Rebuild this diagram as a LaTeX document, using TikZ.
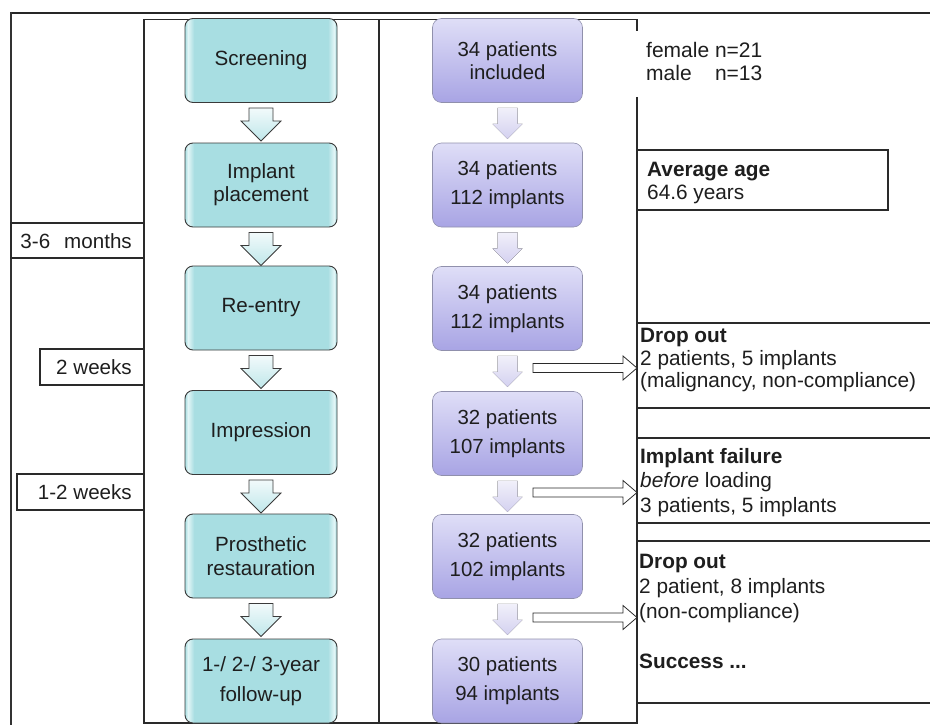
\documentclass[tikz,border=0pt]{standalone}
\usepackage{fontspec}
\setmainfont{Liberation Sans}
\usetikzlibrary{calc}
\definecolor{tealF}{HTML}{A8DEE2}
\definecolor{tealG}{HTML}{E2F5F6}
\definecolor{tealB}{HTML}{3A3A3A}
\definecolor{tarT}{HTML}{F2FAFB}
\definecolor{tarB}{HTML}{BFE7EA}
\definecolor{purT}{HTML}{DFDEF7}
\definecolor{purB}{HTML}{A8A4E4}
\definecolor{purE}{HTML}{9090AC}
\definecolor{parrT}{HTML}{F1F0FA}
\definecolor{parrB}{HTML}{D4D1F0}
\definecolor{txt}{HTML}{1E1E1E}
\definecolor{lin}{HTML}{2A2A2A}
\pgfdeclarehorizontalshading{tealgloss}{100bp}{color(0bp)=(tealF); color(25bp)=(tealF); color(26bp)=(tealG); color(28bp)=(tealF); color(72bp)=(tealF); color(74bp)=(tealG); color(75bp)=(tealF); color(100bp)=(tealF)}
\newcommand\tealdown[1]{%
  \draw[tarrowst] ($(#1.south)+(-12,5)$) -- ($(#1.south)+(12,5)$) -- ($(#1.south)+(12,18)$) -- ($(#1.south)+(20,18)$) -- ($(#1.south)+(0,38)$) -- ($(#1.south)+(-20,18)$) -- ($(#1.south)+(-12,18)$) -- cycle;}
\newcommand\purdown[1]{%
  \fill[parrowst] ($(#1.south)+(-10,5)$) -- ($(#1.south)+(10,5)$) -- ($(#1.south)+(10,21)$) -- ($(#1.south)+(15,21)$) -- ($(#1.south)+(0,36)$) -- ($(#1.south)+(-15,21)$) -- ($(#1.south)+(-10,21)$) -- cycle;}
\newcommand\sidearrow[2]{%
  \draw[harrowst] ($(#1)+(0,-4.5)$) -- ($(#2)+(-14,-4.5)$) -- ($(#2)+(-14,-12)$) -- (#2) -- ($(#2)+(-14,12)$) -- ($(#2)+(-14,4.5)$) -- ($(#1)+(0,4.5)$) -- cycle;}
\begin{document}
\begin{tikzpicture}[x=1pt,y=-1pt,
  tealbox/.style={rounded corners=8pt, draw=tealB, line width=0.9pt, shade, shading=tealgloss,
    minimum width=152pt, minimum height=84pt, inner sep=0pt, align=center,
    font=\fontsize{20.6}{23}\selectfont, text=txt},
  purbox/.style={rounded corners=9pt, draw=purE, line width=0.6pt, top color=purT, bottom color=purB,
    minimum width=150pt, minimum height=84pt, inner sep=0pt, align=center,
    font=\fontsize{20.4}{29}\selectfont, text=txt},
  tarrowst/.style={draw=tealB, line width=0.8pt, top color=tarT, bottom color=tarB, line join=miter},
  parrowst/.style={top color=parrT, bottom color=parrB},
  harrowst/.style={draw=lin, line width=0.8pt, fill=white, line join=miter},
  panel/.style={draw=lin, line width=1.1pt},
  tbox/.style={draw=lin, line width=1.1pt},
  ttext/.style={anchor=base east, inner sep=0pt, font=\fontsize{20.6}{23}\selectfont, text=txt},
  rtext/.style={anchor=base west, inner sep=0pt, font=\fontsize{20.8}{23}\selectfont, text=txt},
  gtext/.style={anchor=base west, inner sep=0pt, font=\fontsize{21}{23}\selectfont, text=txt}]
\useasboundingbox (0,0) rectangle (930,725);
% outer frame
\draw[line width=2.4pt, draw=black!85] (11,13) -- (930,13);
\draw[line width=1.6pt, draw=black!80] (11,12) -- (11,725);
% panels
\draw[panel] (144,19.5) rectangle (379,723);
\draw[panel] (379,19.5) -- (637,19.5) -- (637,31) (637,97) -- (637,723) -- (379,723);
% timeline boxes
\draw[tbox] (11,223) rectangle (144,258);
\draw[tbox] (40,349) rectangle (144,385);
\draw[tbox] (17,474) rectangle (144,510);
\node[ttext] (t1) at (132,248) {3-6\hspace{14pt}months};
\node[ttext] (t2) at (132,374.5) {2 weeks};
\node[ttext] (t3) at (132,499.5) {1-2 weeks};
% teal process boxes
\node[tealbox] (s1) at (261,60.5) {Screening};
\node[tealbox] (s2) at (261,185) {Implant\\placement};
\node[tealbox] (s3) at (261,308) {Re-entry};
\node[tealbox] (s4) at (261,432.5) {Impression};
\node[tealbox, font=\fontsize{20.6}{24}\selectfont] (s5) at (261,556) {Prosthetic\\restauration};
\node[tealbox, font=\fontsize{20.6}{30}\selectfont] (s6) at (261,681) {1-/ 2-/ 3-year\\follow-up};
\tealdown{s1}\tealdown{s2}\tealdown{s3}\tealdown{s4}\tealdown{s5}
% purple boxes
\node[purbox, font=\fontsize{20.4}{22.5}\selectfont] (p1) at (507.5,60.5) {34 patients\\included};
\node[purbox] (p2) at (507.5,185) {34 patients\\112 implants};
\node[purbox] (p3) at (507.5,308.5) {34 patients\\112 implants};
\node[purbox] (p4) at (507.5,433.5) {32 patients\\107 implants};
\node[purbox] (p5) at (507.5,556.5) {32 patients\\102 implants};
\node[purbox] (p6) at (507.5,681) {30 patients\\94 implants};
\purdown{p1}\purdown{p2}\purdown{p3}\purdown{p4}\purdown{p5}
% side arrows
\coordinate (a1) at (533,368);   \coordinate (b1) at (637,368);
\coordinate (a2) at (533,492.5); \coordinate (b2) at (637,492.5);
\coordinate (a3) at (533,617.5); \coordinate (b3) at (637,617.5);
\sidearrow{a1}{b1}\sidearrow{a2}{b2}\sidearrow{a3}{b3}
% right side
\node[gtext] (f1) at (646,58) {female n=21};
\node[gtext] (f2) at (646,80.5) {\rlap{male}\phantom{female }n=13};
\draw[tbox] (637,150) rectangle (888,210);
\node[rtext] (g1) at (647,176) {\textbf{Average age}};
\node[rtext] (g2) at (647,199) {64.6 years};
\draw[tbox] (637,323) -- (930,323) (637,408) -- (930,408);
\node[rtext] (d1) at (640,342) {\textbf{Drop out}};
\node[rtext] (d2) at (640,365) {2 patients, 5 implants};
\node[rtext] (d3) at (640,387.5) {(malignancy, non-compliance)};
\draw[tbox] (637,438) -- (930,438) (637,523) -- (930,523);
\node[rtext] (i1) at (640,463) {\textbf{Implant failure}};
\node[rtext] (i2) at (640,487.5) {\textit{before} loading};
\node[rtext] (i3) at (640,512.5) {3 patients, 5 implants};
\draw[tbox] (637,541) -- (930,541) (637,703) -- (930,703);
\node[rtext] (e1) at (639,568) {\textbf{Drop out}};
\node[rtext] (e2) at (639,593) {2 patient, 8 implants};
\node[rtext] (e3) at (639,618) {(non-compliance)};
\node[rtext] (e4) at (639,668) {\textbf{Success ...}};
\end{tikzpicture}
\end{document}
